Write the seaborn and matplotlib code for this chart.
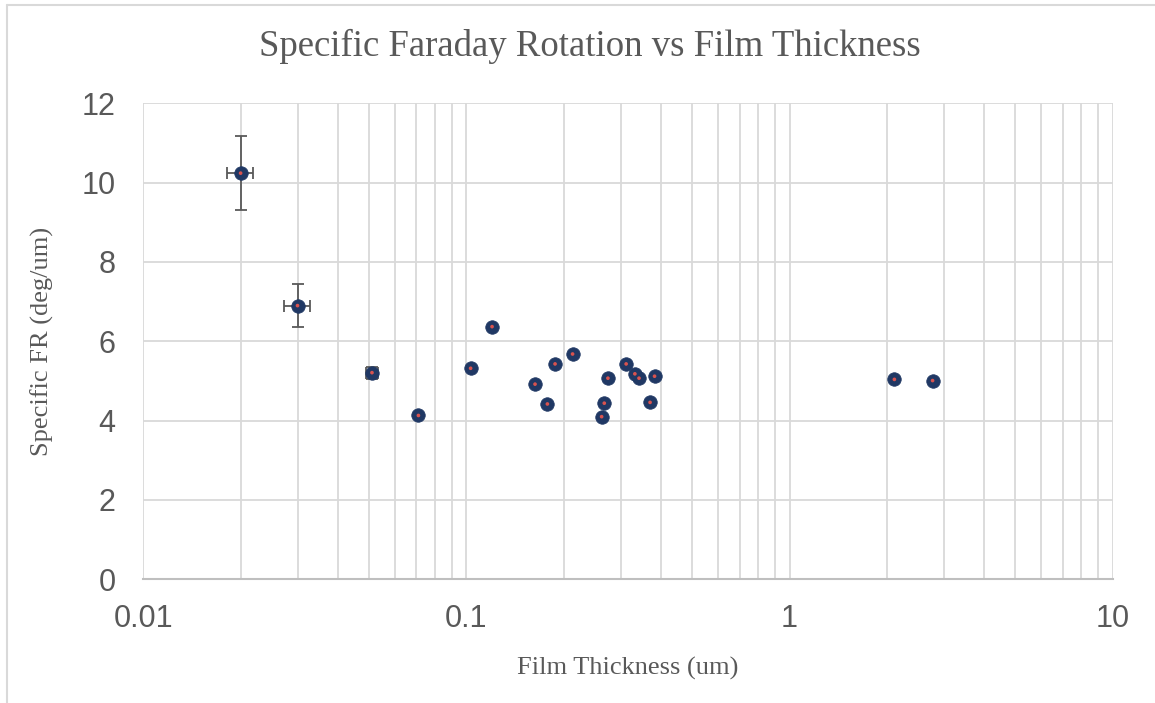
import numpy as np
import pandas as pd
import matplotlib
matplotlib.use("Agg")
import matplotlib.pyplot as plt
from matplotlib.lines import Line2D
from matplotlib.ticker import FuncFormatter, LogLocator
import seaborn as sns

# data
thickness = [0.020, 0.030, 0.051, 0.071, 0.103, 0.120, 0.163, 0.178, 0.188,
             0.213, 0.262, 0.267, 0.274, 0.312, 0.332, 0.342, 0.370, 0.382,
             2.11, 2.77]
specific_fr = [10.24, 6.90, 5.21, 4.13, 5.32, 6.37, 4.92, 4.42, 5.43,
               5.68, 4.10, 4.44, 5.07, 5.43, 5.18, 5.07, 4.46, 5.12,
               5.04, 5.01]
# error bars only on the three thinnest films
err_thickness = [0.020, 0.030, 0.051]
err_fr = [10.24, 6.90, 5.21]
x_err = [0.0019, 0.0027, 0.0022]
y_err = [0.94, 0.545, 0.15]

x_ticks = [0.01, 0.1, 1, 10]
y_ticks = [0, 2, 4, 6, 8, 10, 12]

df = pd.DataFrame({"thickness": thickness, "fr": specific_fr})

sns.set_style("whitegrid")
plt.rcParams["font.family"] = ["Liberation Sans", "DejaVu Sans"]

text_gray = "#595959"
grid_gray = "#D9D9D9"

fig = plt.figure(figsize=(11.55, 7.03), dpi=100)
ax = fig.add_axes([0.1241, 0.176, 0.8393, 0.677])

ax.errorbar(err_thickness, err_fr, xerr=x_err, yerr=y_err, fmt="none",
            ecolor=text_gray, elinewidth=1.3, capsize=4.3, capthick=1.3,
            zorder=3)

sns.scatterplot(data=df, x="thickness", y="fr", ax=ax, s=95,
                color="#203864", edgecolor="#203864", linewidth=0.5,
                zorder=4, legend=False)
sns.scatterplot(data=df, x="thickness", y="fr", ax=ax, s=7,
                color="#D9534F", edgecolor="none", zorder=5, legend=False)

ax.set_xscale("log")
ax.set_xlim(x_ticks[0], x_ticks[-1])
ax.set_ylim(y_ticks[0], y_ticks[-1])
ax.set_xticks(x_ticks)
ax.xaxis.set_minor_locator(LogLocator(base=10, subs=np.arange(2, 10)))
ax.xaxis.set_major_formatter(FuncFormatter(lambda v, p: f"{v:g}"))
ax.set_yticks(y_ticks)

ax.grid(True, which="major", color=grid_gray, linewidth=1.3)
ax.grid(True, which="minor", axis="x", color=grid_gray, linewidth=1.3)
ax.set_axisbelow(True)

for side in ["left", "top", "right"]:
    ax.spines[side].set_visible(False)
ax.spines["bottom"].set_color("#BFBFBF")
ax.spines["bottom"].set_linewidth(1.5)

ax.tick_params(axis="both", which="both", length=0, labelsize=22,
               labelcolor=text_gray)
ax.tick_params(axis="x", pad=18)
ax.tick_params(axis="y", pad=20)

ax.set_title("Specific Faraday Rotation vs Film Thickness",
             family="Liberation Serif", fontsize=26.5, color=text_gray,
             pad=34, x=0.461)
ax.set_xlabel("Film Thickness (um)", family="Liberation Serif",
              fontsize=19, color=text_gray, labelpad=16)
ax.set_ylabel("Specific FR (deg/um)", family="Liberation Serif",
              fontsize=19, color=text_gray, labelpad=20)

# chart area border (left and top edges visible in the reference)
fig.add_artist(Line2D([7 / 1155, 7 / 1155], [0, 1 - 5 / 703],
                      transform=fig.transFigure, color=grid_gray, lw=1.5))
fig.add_artist(Line2D([7 / 1155, 1], [1 - 5 / 703, 1 - 5 / 703],
                      transform=fig.transFigure, color=grid_gray, lw=1.5))

fig.savefig("out.png", dpi=100)
